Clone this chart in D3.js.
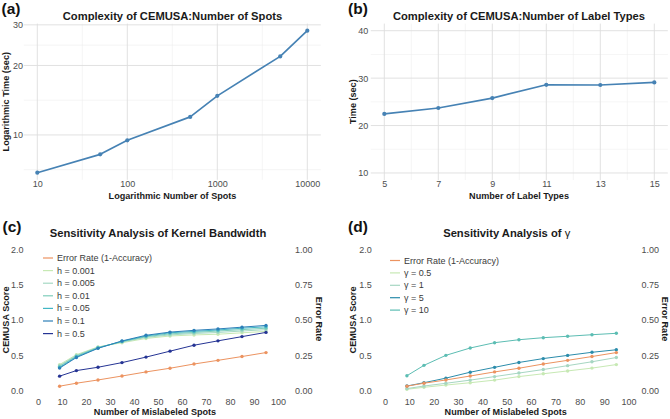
<!DOCTYPE html>
<html>
<head>
<meta charset="utf-8">
<script src="https://cdn.jsdelivr.net/npm/d3@7"></script>
<style>
  body { margin: 0; background: #fff; }
  svg { display: block; font-family: "Liberation Sans", Arial, sans-serif; }
</style>
</head>
<body>
<svg id="chart" width="670" height="419"></svg>
<script>
// panel (a): runtime vs number of spots
const spotsN = [10, 50, 100, 500, 1000, 5000, 10000];
const spotsTime = [6.86, 8.24, 9.48, 11.97, 14.77, 21.9, 28.3];

// panel (b): runtime vs number of label types
const labelTypes = [5, 7, 9, 11, 13, 15];
const labelTime = [22.45, 23.7, 25.8, 28.6, 28.55, 29.1];

// panels (c) and (d): sensitivity
const mislabeled = [9, 16, 25, 35, 45, 55, 65, 75, 85, 95];
const errorRate = [0.032, 0.053, 0.076, 0.104, 0.133, 0.159, 0.189, 0.215, 0.242, 0.27];

const hNames = ['h = 0.001', 'h = 0.005', 'h = 0.01', 'h = 0.05', 'h = 0.1', 'h = 0.5'];
const hScores = [
  [0.37, 0.51, 0.62, 0.68, 0.74, 0.775, 0.79, 0.80, 0.82, 0.84],
  [0.355, 0.50, 0.615, 0.69, 0.755, 0.79, 0.81, 0.825, 0.845, 0.865],
  [0.345, 0.49, 0.61, 0.695, 0.765, 0.805, 0.825, 0.845, 0.865, 0.885],
  [0.33, 0.48, 0.605, 0.70, 0.775, 0.82, 0.84, 0.86, 0.885, 0.905],
  [0.32, 0.47, 0.60, 0.705, 0.785, 0.83, 0.855, 0.875, 0.90, 0.925],
  [0.206, 0.285, 0.332, 0.398, 0.476, 0.56, 0.644, 0.706, 0.766, 0.826]
];
const hColors = ['#c7e9b4', '#a6d9c4', '#7fcdbb', '#41b6c4', '#2c7fb8', '#253494'];

const gammaNames = ['\u03b3 = 0.5', '\u03b3 = 1', '\u03b3 = 5', '\u03b3 = 10'];
const gammaScores = [
  [0.02, 0.048, 0.08, 0.113, 0.15, 0.2, 0.24, 0.28, 0.32, 0.37],
  [0.03, 0.066, 0.105, 0.15, 0.2, 0.25, 0.30, 0.355, 0.41, 0.47],
  [0.066, 0.113, 0.178, 0.262, 0.331, 0.40, 0.455, 0.50, 0.544, 0.58],
  [0.212, 0.359, 0.501, 0.605, 0.68, 0.722, 0.751, 0.771, 0.793, 0.813]
];
const gammaColors = ['#c7e9b4', '#a6d6c2', '#2b8cab', '#5cbdb3'];

const errColor = '#ec9360';
const lineBlue = '#4682b4';
const tickColor = '#4d4d4d';

const svg = d3.select('#chart');
svg.append('rect').attr('width', 670).attr('height', 419).attr('fill', '#fff');

function styleAxis(g, size) {
  g.attr('font-family', null).attr('font-size', null);
  g.select('.domain').remove();
  g.selectAll('line').remove();
  g.selectAll('text').attr('font-size', size).attr('fill', tickColor);
}

function tag(x, y, s) {
  svg.append('text').attr('x', x).attr('y', y)
    .attr('font-size', 15.5).attr('font-weight', 'bold').attr('fill', '#111').text(s);
}

function title(x, y, s) {
  return svg.append('text').attr('x', x).attr('y', y).attr('text-anchor', 'middle')
    .attr('font-size', 11.2).attr('font-weight', 'bold').attr('fill', '#1a1a1a').text(s);
}

function axisTitle(x, y, s, rot) {
  svg.append('text')
    .attr('transform', `translate(${x},${y})` + (rot ? ` rotate(${rot})` : ''))
    .attr('text-anchor', 'middle').attr('font-size', 9.1).attr('font-weight', 'bold')
    .attr('fill', '#1a1a1a').text(s);
}

function grid(g, xs, ys, xMajor, xMinor, yMajor, yMinor) {
  const [x0, x1] = xs.range();
  const [y0, y1] = ys.range();
  const lines = [
    ...xMinor.map(v => ({ x1: xs(v), x2: xs(v), y1: y0, y2: y1, minor: true })),
    ...yMinor.map(v => ({ x1: x0, x2: x1, y1: ys(v), y2: ys(v), minor: true })),
    ...xMajor.map(v => ({ x1: xs(v), x2: xs(v), y1: y0, y2: y1 })),
    ...yMajor.map(v => ({ x1: x0, x2: x1, y1: ys(v), y2: ys(v) }))
  ];
  g.selectAll('line.grid').data(lines).enter().append('line')
    .attr('class', 'grid')
    .attr('x1', d => d.x1).attr('x2', d => d.x2)
    .attr('y1', d => d.y1).attr('y2', d => d.y2)
    .attr('stroke', d => d.minor ? '#efefef' : '#dedede')
    .attr('stroke-width', d => d.minor ? 0.6 : 0.9);
}

function lineWithPoints(g, xs, ys, xv, yv, color, width, r) {
  const pts = xv.map((x, i) => [x, yv[i]]);
  g.append('path').datum(pts)
    .attr('fill', 'none').attr('stroke', color).attr('stroke-width', width)
    .attr('stroke-linejoin', 'round')
    .attr('d', d3.line().x(d => xs(d[0])).y(d => ys(d[1])));
  g.selectAll(null).data(pts).enter().append('circle')
    .attr('cx', d => xs(d[0])).attr('cy', d => ys(d[1])).attr('r', r).attr('fill', color);
}

// ---------- (a) ----------
{
  const g = svg.append('g');
  const lx = d3.extent(spotsN).map(Math.log10);
  const px = (lx[1] - lx[0]) * 0.05;
  const ly = d3.extent(spotsTime).map(Math.log);
  const py = (ly[1] - ly[0]) * 0.05;
  const x = d3.scaleLog().domain([10 ** (lx[0] - px), 10 ** (lx[1] + px)]).range([23.8, 320.8]);
  const y = d3.scaleLog().domain([Math.exp(ly[0] - py), Math.exp(ly[1] + py)]).range([179.8, 23.6]);

  grid(g, x, y, [10, 100, 1000, 10000], [10 ** 1.5, 10 ** 2.5, 10 ** 3.5],
    [10, 20, 30], [Math.sqrt(50), Math.sqrt(200), Math.sqrt(600)]);

  g.append('g').attr('transform', 'translate(0,180.6)')
    .call(d3.axisBottom(x).tickValues([10, 100, 1000, 10000]).tickFormat(d3.format('d')).tickSize(0).tickPadding(0))
    .call(a => styleAxis(a, 9));
  g.append('g').attr('transform', 'translate(23,0)')
    .call(d3.axisLeft(y).tickValues([10, 20, 30]).tickFormat(d3.format('d')).tickSize(0).tickPadding(0))
    .call(a => styleAxis(a, 9));

  lineWithPoints(g, x, y, spotsN, spotsTime, lineBlue, 1.7, 2.1);

  tag(1.5, 14, '(a)');
  title(172.5, 19.5, 'Complexity of CEMUSA:Number of Spots');
  axisTitle(172.5, 198.5, 'Logarithmic Number of Spots');
  axisTitle(9, 101.7, 'Logarithmic Time (sec)', -90);
}

// ---------- (b) ----------
{
  const g = svg.append('g');
  const x = d3.scaleLinear().domain([4.5, 15.5]).range([370.8, 667.8]);
  const y = d3.scaleLinear().domain([8.5, 41.5]).range([180.1, 23.6]);

  grid(g, x, y, [5, 7, 9, 11, 13, 15], [6, 8, 10, 12, 14], [10, 20, 30, 40], [15, 25, 35]);

  g.append('g').attr('transform', 'translate(0,181)')
    .call(d3.axisBottom(x).tickValues(labelTypes).tickSize(0).tickPadding(0))
    .call(a => styleAxis(a, 9));
  g.append('g').attr('transform', 'translate(368.3,0)')
    .call(d3.axisLeft(y).tickValues([10, 20, 30, 40]).tickSize(0).tickPadding(0))
    .call(a => styleAxis(a, 9));

  lineWithPoints(g, x, y, labelTypes, labelTime, lineBlue, 1.7, 2.1);

  tag(348, 14, '(b)');
  title(519, 19.5, 'Complexity of CEMUSA:Number of Label Types');
  axisTitle(519, 198.5, 'Number of Label Types');
  axisTitle(356, 101.7, 'Time (sec)', -90);
}

// ---------- (c) and (d) ----------
function sensitivity(opts) {
  const g = svg.append('g');
  const x = d3.scaleLinear().domain([0, 100]).range(opts.xr);
  const y = d3.scaleLinear().domain([0, 2]).range([390.7, 249.5]);
  const yr = d3.scaleLinear().domain([0, 1]).range([390.7, 249.5]);

  g.append('g').attr('transform', 'translate(0,398.6)')
    .call(d3.axisBottom(x).tickValues(d3.range(0, 101, 10)).tickSize(0).tickPadding(0))
    .call(a => styleAxis(a, 9));
  g.append('g').attr('transform', `translate(${opts.leftLab},0)`)
    .call(d3.axisLeft(y).tickValues(d3.range(0, 2.01, 0.5)).tickFormat(d3.format('.1f')).tickSize(0).tickPadding(0))
    .call(a => styleAxis(a, 9));
  g.append('g').attr('transform', `translate(${opts.rightLab},0)`)
    .call(d3.axisRight(yr).tickValues(d3.range(0, 1.01, 0.25)).tickFormat(d3.format('.2f')).tickSize(0).tickPadding(0))
    .call(a => styleAxis(a, 9));

  opts.scores.forEach((s, i) => lineWithPoints(g, x, y, mislabeled, s, opts.colors[i], 1, 1.7));
  lineWithPoints(g, x, yr, mislabeled, errorRate, errColor, 1, 1.7);

  const names = ['Error Rate (1-Accuracy)', ...opts.names];
  const cols = [errColor, ...opts.colors];
  const leg = g.append('g').attr('transform', `translate(${opts.legX},${opts.legY})`);
  const rows = leg.selectAll('g').data(names).enter().append('g')
    .attr('transform', (d, i) => `translate(0,${i * opts.legStep})`);
  rows.append('line').attr('x1', 0).attr('x2', 10).attr('y1', 0).attr('y2', 0)
    .attr('stroke', (d, i) => cols[i]).attr('stroke-width', 1.2);
  rows.append('text').attr('x', 14).attr('dy', '0.34em').attr('font-size', 9)
    .attr('fill', '#3a3a3a').text(d => d);

  tag(opts.tagX, 232, opts.tag);
  axisTitle(opts.xMid, 415, 'Number of Mislabeled Spots');
  axisTitle(opts.leftTitle, 320, 'CEMUSA Score', -90);
  axisTitle(opts.rightTitle, 319, 'Error Rate', 90);
}

sensitivity({
  xr: [38, 278], leftLab: 23.5, rightLab: 295, scores: hScores, colors: hColors, names: hNames,
  legX: 43, legY: 258, legStep: 12.6, tag: '(c)', tagX: 2.5, xMid: 155,
  leftTitle: 9, rightTitle: 315.5
});
title(158, 236.5, 'Sensitivity Analysis of Kernel Bandwidth');

sensitivity({
  xr: [385, 628.5], leftLab: 371.7, rightLab: 641.5, scores: gammaScores, colors: gammaColors, names: gammaNames,
  legX: 390, legY: 260.5, legStep: 12.4, tag: '(d)', tagX: 348, xMid: 505.7,
  leftTitle: 355.5, rightTitle: 661.5
});
{
  const t = title(506.7, 236.5, 'Sensitivity Analysis of ');
  t.append('tspan').attr('font-weight', 'normal').text('\u03b3');
}
</script>
</body>
</html>
